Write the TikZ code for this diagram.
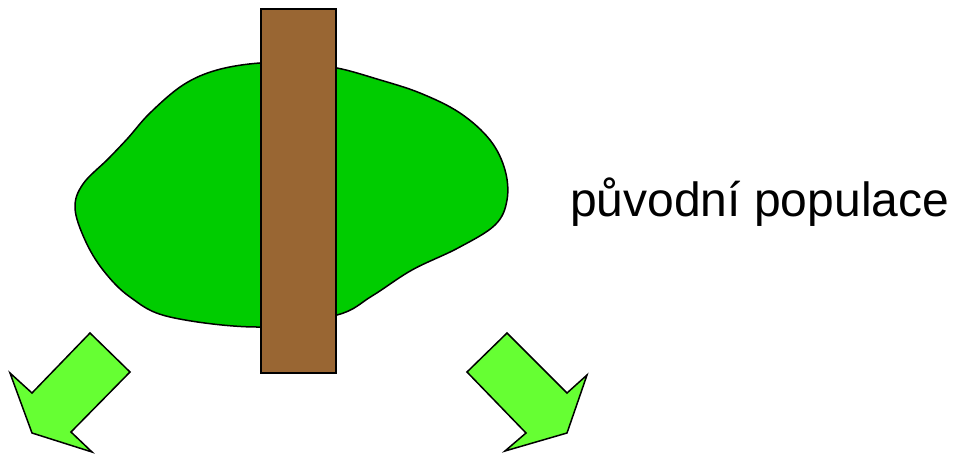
\documentclass[tikz,border=0pt]{standalone}
\usepackage{fontspec}
\setmainfont{Liberation Sans}
\definecolor{leafgreen}{HTML}{00CC00}
\definecolor{trunkbrown}{HTML}{996633}
\definecolor{arrowgreen}{HTML}{66FF33}
\begin{document}
\begin{tikzpicture}[x=1pt,y=-1pt,
    outline/.style={draw=black, line width=1.5pt, line join=miter},
    blob/.style={outline, fill=leafgreen},
    trunk/.style={outline, fill=trunkbrown},
    split/.style={outline, fill=arrowgreen},
    caption/.style={font=\fontsize{48}{58}\selectfont, inner sep=0pt, anchor=base west}
  ]
  \useasboundingbox (0,0) rectangle (957,454);

  % Population
  \draw[blob] plot[smooth cycle, tension=0.6] coordinates {
    (260,63) (217,70) (183,85) (150,113) (128,138) (108,159) (83,184)
    (75,208) (85,240) (103,270) (130,297) (170,317) (260,327) (337,315)
    (372,296) (412,270) (458,248) (495,225) (507,200) (505,170) (490,140)
    (460,113) (420,93) (377,79) (337,68) (300,64)};

  % Barrier
  \draw[trunk] (261,9) rectangle (336,373);

  % Arrows
  \draw[split] (90,333) -- (130,372) -- (71,432) -- (92,452) -- (32,433)
    -- (10,373) -- (32,393) -- cycle;
  \draw[split] (507,333) -- (467,372) -- (526,433) -- (505,451) -- (567,433)
    -- (587,375) -- (567,393) -- cycle;

  % Label
  \node[caption] (label) at (570,216) {původní populace};
\end{tikzpicture}
\end{document}
